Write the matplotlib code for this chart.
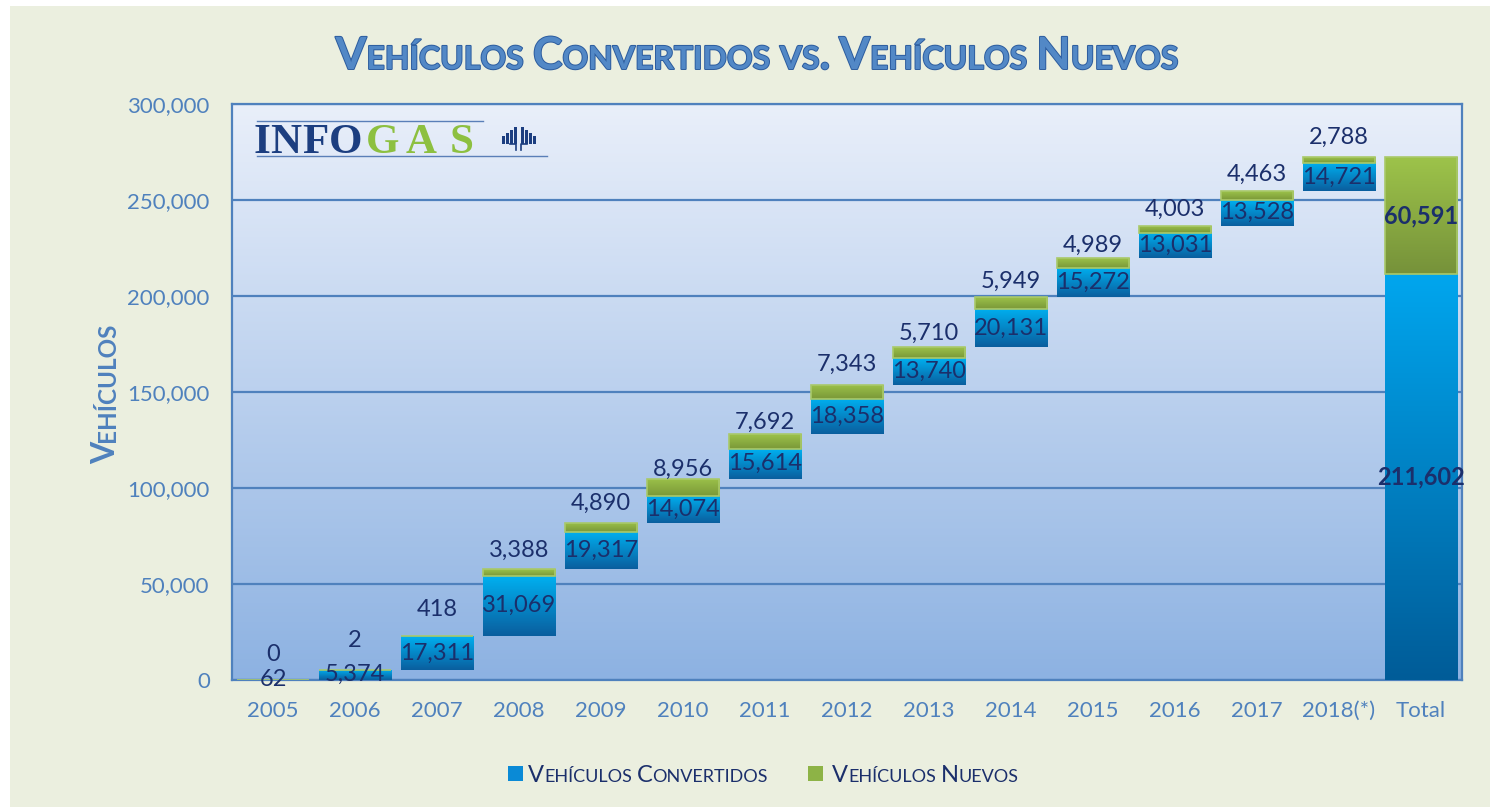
import numpy as np
import matplotlib
matplotlib.use('Agg')
import matplotlib.pyplot as plt
from matplotlib import patheffects as pe
from matplotlib.colors import to_rgb
from matplotlib.patches import Rectangle
from matplotlib.ticker import FuncFormatter

years = ['2005', '2006', '2007', '2008', '2009', '2010', '2011', '2012',
         '2013', '2014', '2015', '2016', '2017', '2018(*)']
convertidos = [62, 5374, 17311, 31069, 19317, 14074, 15614, 18358,
               13740, 20131, 15272, 13031, 13528, 14721]
nuevos = [0, 2, 418, 3388, 4890, 8956, 7692, 7343,
          5710, 5949, 4989, 4003, 4463, 2788]
total_label = 'Total'

# layout only: how far (px) each "nuevos" label sits above its bar
nuevo_label_gap = [25, 29, 26, 19, 20, 9, 12, 20, 14, 16, 13, 16, 17, 20]

W, H = 1490, 807
BG = '#EBEFDF'
AXBLUE = '#4F81BD'
NAVY = '#1B2F6B'
FONT = 'Lato'

fig = plt.figure(figsize=(W / 100, H / 100), dpi=100, facecolor='white')
fig.patches.append(Rectangle((10 / W, 0), 1, 1 - 6 / H, transform=fig.transFigure,
                             facecolor=BG, edgecolor='none', zorder=-10))

ax = fig.add_axes([232 / W, 1 - 680 / H, (1462 - 232) / W, (680 - 104) / H])
ax.patch.set_visible(False)


def ramp(c_bot, c_top, n=128):
    a, b = np.array(to_rgb(c_bot)), np.array(to_rgb(c_top))
    t = np.linspace(0, 1, n)[:, None]
    return (a + (b - a) * t)[:, None, :]


# plot area gradient
ax.imshow(ramp('#8DB2E2', '#E9EFFA'), extent=[0, 1, 0, 1], transform=ax.transAxes,
          aspect='auto', origin='lower', zorder=0.1, interpolation='bilinear')


def grad_bar(x, bottom, h, w, c_bot, c_top, edge='none', lw=0, z=3):
    bar = ax.bar(x, h, w, bottom=bottom, color='none', edgecolor=edge,
                 linewidth=lw, zorder=z + 0.1)[0]
    if h > 500:
        im = ax.imshow(ramp(c_bot, c_top), extent=[x - w / 2, x + w / 2, bottom, bottom + h],
                       aspect='auto', origin='lower', zorder=z, interpolation='bilinear')
        im.set_clip_path(bar)
    return bar


bw = 0.88
cum = 0
lbl_kw = dict(color=NAVY, fontsize=17, family=FONT, ha='center', zorder=6)
for i, (c, n) in enumerate(zip(convertidos, nuevos)):
    grad_bar(i, cum, c, bw, '#0A5E9E', '#00B0F0')
    ax.text(i, cum + c / 2, f'{c:,}', va='center', **lbl_kw)
    cum += c
    grad_bar(i, cum, n, bw, '#7A9838', '#9CC24A', edge='#A9C96A', lw=1.2)
    ax.annotate(f'{n:,}', (i, cum + n), xytext=(0, nuevo_label_gap[i]),
                textcoords='offset pixels', va='center', **lbl_kw)
    cum += n

ti = len(years)
tc, tn = sum(convertidos), sum(nuevos)
grad_bar(ti, 0, tc, bw, '#005C98', '#00A6EE')
grad_bar(ti, tc, tn, bw, '#76923A', '#9DC34A', edge='#A9C96A', lw=1.2)
ax.text(ti, tc / 2, f'{tc:,}', va='center', fontweight='bold', **lbl_kw)
ax.text(ti, tc + tn / 2, f'{tn:,}', va='center', fontweight='bold', **lbl_kw)

ax.set_xlim(-0.5, ti + 0.5)
ax.set_ylim(0, 300000)
ax.set_yticks(np.arange(0, 300001, 50000))
ax.yaxis.set_major_formatter(FuncFormatter(lambda v, p: f'{int(v):,}'))
ax.set_xticks(range(ti + 1))
ax.set_xticklabels(years + [total_label])
ax.tick_params(length=0, labelsize=16, labelcolor=AXBLUE)
for lab in ax.get_xticklabels() + ax.get_yticklabels():
    lab.set_family(FONT)
ax.tick_params(axis='x', pad=15)
ax.tick_params(axis='y', pad=16)
ax.set_axisbelow(True)
ax.grid(axis='y', color=AXBLUE, linewidth=1.6)
for s in ax.spines.values():
    s.set_color(AXBLUE)
    s.set_linewidth(1.6)

renderer = fig.canvas.get_renderer()


def small_caps(x, y, s, big, small, rot=0, ha='center', **kw):
    # x, y in reference pixels measured from the top-left
    runs = []
    for wi, word in enumerate(s.split(' ')):
        if wi:
            runs.append((None, big))
        cur, cur_sz = '', None
        for ch in word:
            sz = small if ch.islower() else big
            if sz != cur_sz and cur:
                runs.append((cur, cur_sz))
                cur = ''
            cur += ch.upper()
            cur_sz = sz
        runs.append((cur, cur_sz))
    widths = []
    for t, sz in runs:
        if t is None:
            widths.append(sz * 0.28)
            continue
        tmp = fig.text(0, 0, t, fontsize=sz, **kw)
        widths.append(tmp.get_window_extent(renderer).width)
        tmp.remove()
    total = sum(widths)
    off = -total / 2 if ha == 'center' else 0
    for (t, sz), w in zip(runs, widths):
        if t is not None:
            if rot == 0:
                px, py = x + off, y
            else:
                px, py = x, y - off
            fig.text(px / W, 1 - py / H, t, fontsize=sz, rotation=rot,
                     rotation_mode='anchor', ha='left', va='baseline', **kw)
        off += w


small_caps(757, 69, 'Vehículos Convertidos vs. Vehículos Nuevos', 32, 23,
           family=FONT, fontweight='bold', color='#5288C6',
           path_effects=[pe.withStroke(linewidth=1.4, foreground='#2C5C9E')])
small_caps(115, 393, 'Vehículos', 23, 17.5, rot=90, family=FONT,
           fontweight='bold', color=AXBLUE)

# legend
fig.patches.append(Rectangle((508 / W, 1 - 781 / H), 15 / W, 15 / H, transform=fig.transFigure,
                             facecolor='#0A8AD6', edgecolor='none'))
fig.patches.append(Rectangle((808 / W, 1 - 781 / H), 15 / W, 15 / H, transform=fig.transFigure,
                             facecolor='#8DB346', edgecolor='none'))
small_caps(528, 782, 'Vehículos Convertidos', 17, 13, ha='left', family=FONT, color=NAVY)
small_caps(832, 782, 'Vehículos Nuevos', 17, 13, ha='left', family=FONT, color=NAVY)

# logo
logo_letters = [('I', 262, '#1C3E80'), ('N', 286, '#1C3E80'), ('F', 315, '#1C3E80'),
                ('O', 345.5, '#1C3E80'), ('G', 382.5, '#8DC040'), ('A', 421.5, '#8DC040'),
                ('S', 461.5, '#8DC040')]
for ch, lx, col in logo_letters:
    fig.text(lx / W, 1 - 153 / H, ch, fontsize=31, family='Liberation Serif',
             fontweight='bold', color=col, ha='center', va='baseline')
fig.lines.append(plt.Line2D([257 / W, 483 / W], [1 - 121 / H] * 2, transform=fig.transFigure,
                            color='#5A7FB8', linewidth=1))
fig.lines.append(plt.Line2D([257 / W, 547 / W], [1 - 156 / H] * 2, transform=fig.transFigure,
                            color='#5A7FB8', linewidth=1))
for bx, bh in [(502, 8), (506, 11), (510, 14), (514, 17), (521, 17), (525, 14),
               (529, 11), (533, 8)]:
    fig.patches.append(Rectangle((bx / W, 1 - 144 / H), 3 / W, bh / H,
                                 transform=fig.transFigure, facecolor='#1C3E80'))
fig.lines.append(plt.Line2D([510 / W, 516 / W, 516 / W], [1 - 144 / H, 1 - 144 / H, 1 - 150 / H],
                            transform=fig.transFigure, color='#1C3E80', linewidth=1.2))
fig.lines.append(plt.Line2D([527 / W, 521 / W, 521 / W], [1 - 144 / H, 1 - 144 / H, 1 - 150 / H],
                            transform=fig.transFigure, color='#1C3E80', linewidth=1.2))

fig.savefig('out.png', dpi=100, facecolor='white')
